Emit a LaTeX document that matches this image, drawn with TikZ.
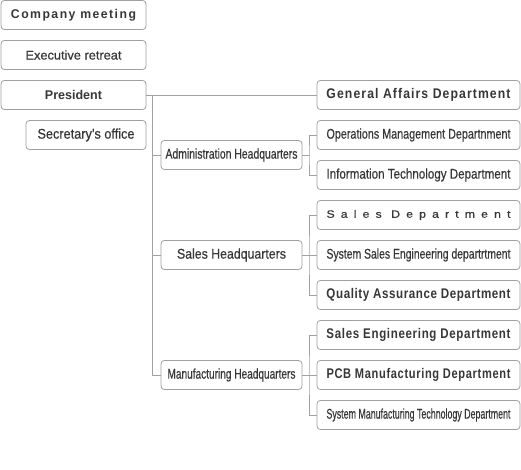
\documentclass[tikz,border=0pt]{standalone}
\usepackage{fontspec}
\setmainfont{Liberation Sans}
\usepackage{graphicx}
\usepackage{tikz}
\usetikzlibrary{positioning}
\definecolor{BoxLine}{RGB}{160,160,160}
\definecolor{BoxText}{RGB}{55,55,55}
\newcommand{\fitw}[2]{\resizebox{#1}{\height}{#2}}
\newcommand{\spaced}[1]{\addfontfeatures{LetterSpace=#1}}
\newcommand{\heavy}{\addfontfeatures{FakeBold=0.6}}
\newcommand{\fsize}[1]{\fontsize{#1}{#1}\selectfont}

\begin{document}
\begin{tikzpicture}[x=0.75pt,y=-0.75pt,node distance=8.25pt,every node/.style={font=\fsize{10.5pt},text=BoxText}]
\tikzset{orgbox/.style={draw=BoxLine,line width=0.6pt,rounded corners=2.5pt,inner sep=0pt,outer sep=0pt,minimum height=21.75pt},
  topbox/.style={orgbox,minimum width=108.75pt},
  hqbox/.style={orgbox,minimum width=105.75pt},
  deptbox/.style={orgbox,minimum width=152.25pt},
  link/.style={draw=BoxLine,line width=0.6pt}}
\useasboundingbox (0,0) rectangle (521,470);
% left column
\node[topbox] (meeting) at (73.5,15) {\fitw{93.75pt}{\fsize{9.5pt}\bfseries\spaced{12}Company meeting}};
\node[topbox] (retreat) at (73.5,55) {\fitw{72pt}{\fsize{9.5pt}\heavy Executive retreat}};
\node[topbox] (president) at (73.5,95) {\fitw{42.75pt}{\fsize{9.5pt}\bfseries President}};
\node[orgbox,minimum width=90pt,below=of president.south east,anchor=north east] (secretary) {\fitw{72.75pt}{\heavy Secretary's office}};
% departments
\node[deptbox] (genaff) at (418.5,95) {\fitw{138pt}{\bfseries\spaced{9}General Affairs Department}};
\node[deptbox] (opsmgmt) at (418.5,135) {\fitw{138pt}{\heavy Operations Management Departnment}};
\node[deptbox] (infotech) at (418.5,175) {\fitw{138pt}{\heavy Information Technology Department}};
\node[deptbox] (salesdept) at (418.5,215) {\fitw{138pt}{\fsize{8pt}\heavy\spaced{50}Sales Department}};
\node[deptbox] (syssales) at (418.5,255) {\fitw{138pt}{\heavy System Sales Engineering departrtment}};
\node[deptbox] (quality) at (418.5,295) {\fitw{138pt}{\bfseries\spaced{5}Quality Assurance Department}};
\node[deptbox] (saleseng) at (418.5,335) {\fitw{138pt}{\bfseries\spaced{6}Sales Engineering Department}};
\node[deptbox] (pcbmfg) at (418.5,375) {\fitw{138pt}{\bfseries\spaced{6}PCB Manufacturing Department}};
\node[deptbox] (sysmfg) at (418.5,415) {\fitw{138pt}{\heavy System Manufacturing Technology Department}};
% headquarters
\node[hqbox] (adminhq) at (231.5,155) {\fitw{99pt}{\heavy Administration Headquarters}};
\node[hqbox] (saleshq) at (231.5,255) {\fitw{81.75pt}{\heavy Sales Headquarters}};
\node[hqbox] (mfghq) at (231.5,375) {\fitw{96pt}{\heavy Manufacturing Headquarters}};
\coordinate (trunk) at (152,95);
\coordinate (adminfork) at (309,155);
\coordinate (salesfork) at (309,255);
\coordinate (mfgfork) at (309,375);
% connectors
\draw[link] (president) -- (genaff);
\draw[link] (trunk) |- (mfghq);
\draw[link] (trunk |- adminhq) -- (adminhq);
\draw[link] (trunk |- saleshq) -- (saleshq);
\draw[link] (adminhq) -- (adminfork);
\draw[link] (opsmgmt) -| (adminfork) |- (infotech);
\draw[link] (saleshq) -- (syssales);
\draw[link] (salesdept) -| (salesfork) |- (quality);
\draw[link] (mfghq) -- (pcbmfg);
\draw[link] (saleseng) -| (mfgfork) |- (sysmfg);
\end{tikzpicture}
\end{document}
